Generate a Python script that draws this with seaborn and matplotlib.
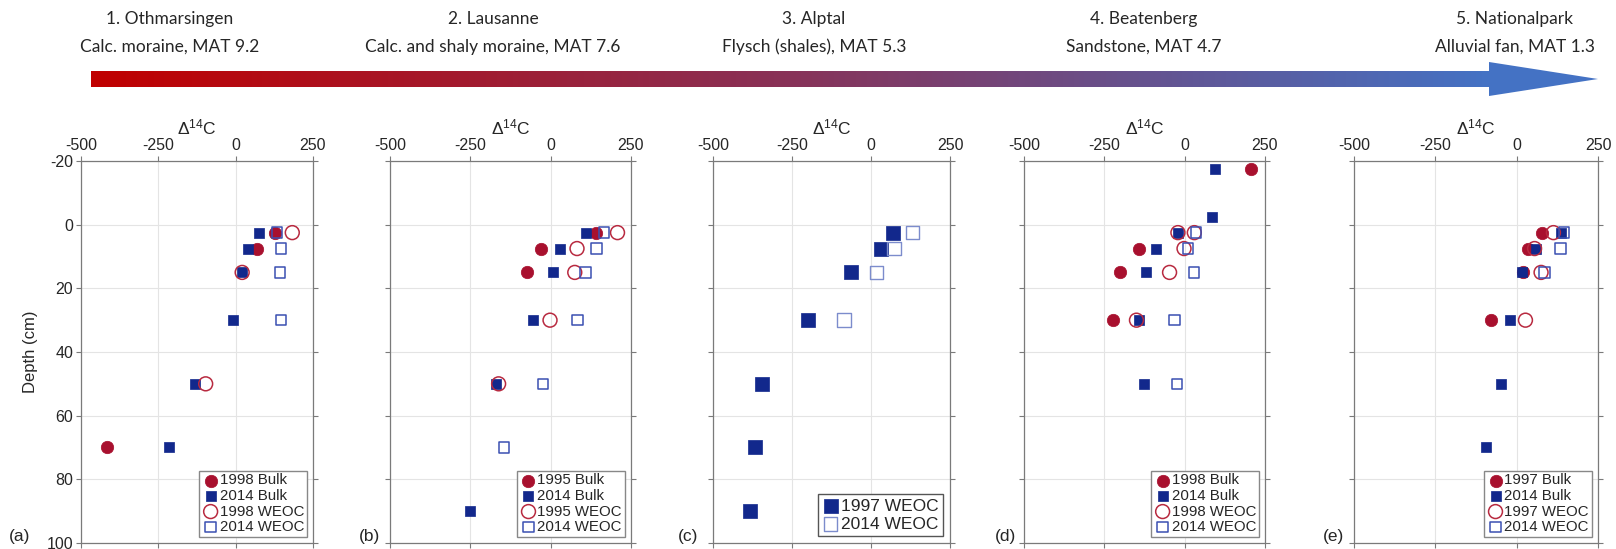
import numpy as np
import matplotlib
matplotlib.use("Agg")
import matplotlib.pyplot as plt
import seaborn as sns
from matplotlib.colors import LinearSegmentedColormap
from matplotlib.patches import Polygon

# header text
sites = ["1. Othmarsingen", "2. Lausanne", "3. Alptal", "4. Beatenberg", "5. Nationalpark"]
geology = ["Calc. moraine, MAT 9.2", "Calc. and shaly moraine, MAT 7.6",
           "Flysch (shales), MAT 5.3", "Sandstone, MAT 4.7", "Alluvial fan, MAT 1.3"]
panel_tags = ["(a)", "(b)", "(c)", "(d)", "(e)"]

# (a) Othmarsingen
a_bulk98_d = [2.5, 7.5, 70]
a_bulk98_v = [127, 70, -416]
a_bulk14_d = [2.5, 7.5, 15, 30, 50, 70]
a_bulk14_v = [74, 41, 21, -9, -132, -215]
a_weoc98_d = [2.5, 15, 50]
a_weoc98_v = [183, 21, -97]
a_weoc14_d = [2.5, 7.5, 15, 30]
a_weoc14_v = [134, 146, 144, 147]

# (b) Lausanne
b_bulk95_d = [2.5, 7.5, 15]
b_bulk95_v = [142, -30, -74]
b_bulk14_d = [2.5, 7.5, 15, 30, 50, 90]
b_bulk14_v = [109, 28, 6, -54, -170, -250]
b_weoc95_d = [2.5, 7.5, 15, 30, 50]
b_weoc95_v = [208, 82, 75, -2, -162]
b_weoc14_d = [2.5, 7.5, 15, 30, 50, 70]
b_weoc14_v = [166, 143, 109, 83, -24, -145]

# (c) Alptal
c_weoc97_d = [2.5, 7.5, 15, 30, 50, 70, 90]
c_weoc97_v = [69, 33, -62, -198, -345, -366, -384]
c_weoc14_d = [2.5, 7.5, 15, 30]
c_weoc14_v = [131, 73, 17, -85]

# (d) Beatenberg
d_bulk98_d = [-17.5, 7.5, 15, 30]
d_bulk98_v = [205, -141, -202, -224]
d_bulk14_d = [-17.5, -2.5, 2.5, 7.5, 15, 30, 50]
d_bulk14_v = [94, 85, -21, -90, -120, -141, -128]
d_weoc98_d = [2.5, 2.5, 7.5, 15, 30]
d_weoc98_v = [-21, 30, -2, -47, -150]
d_weoc14_d = [2.5, 7.5, 15, 30, 50]
d_weoc14_v = [35, 11, 29, -31, -24]

# (e) Nationalpark
e_bulk97_d = [2.5, 7.5, 15, 30]
e_bulk97_v = [78, 36, 20, -79]
e_bulk14_d = [2.5, 7.5, 15, 30, 50, 70]
e_bulk14_v = [137, 59, 16, -20, -48, -93]
e_weoc97_d = [2.5, 7.5, 15, 30]
e_weoc97_v = [113, 55, 75, 27]
e_weoc14_d = [2.5, 7.5, 15]
e_weoc14_v = [146, 134, 86]

RED = "#a8102e"
NAVY = "#12288c"
RED_OPEN = "#b82a40"
BLUE_OPEN = "#3a50b2"

styles = {
    "bulk_old": dict(marker="o", color=RED, edgecolor=RED, s=80, linewidth=0.5),
    "bulk_new": dict(marker="s", color=NAVY, edgecolor=NAVY, s=50, linewidth=0.5),
    "weoc_old": dict(marker="o", color="none", edgecolor=RED_OPEN, s=100, linewidth=1.1),
    "weoc_new": dict(marker="s", color="none", edgecolor=BLUE_OPEN, s=58, linewidth=1.1),
    "c_old": dict(marker="s", color=NAVY, edgecolor=NAVY, s=95, linewidth=0.5),
    "c_new": dict(marker="s", color="none", edgecolor="#7c8ccc", s=95, linewidth=1.0),
}

panels = [
    [("1998 Bulk", a_bulk98_d, a_bulk98_v, "bulk_old"),
     ("2014 Bulk", a_bulk14_d, a_bulk14_v, "bulk_new"),
     ("1998 WEOC", a_weoc98_d, a_weoc98_v, "weoc_old"),
     ("2014 WEOC", a_weoc14_d, a_weoc14_v, "weoc_new")],
    [("1995 Bulk", b_bulk95_d, b_bulk95_v, "bulk_old"),
     ("2014 Bulk", b_bulk14_d, b_bulk14_v, "bulk_new"),
     ("1995 WEOC", b_weoc95_d, b_weoc95_v, "weoc_old"),
     ("2014 WEOC", b_weoc14_d, b_weoc14_v, "weoc_new")],
    [("1997 WEOC", c_weoc97_d, c_weoc97_v, "c_old"),
     ("2014 WEOC", c_weoc14_d, c_weoc14_v, "c_new")],
    [("1998 Bulk", d_bulk98_d, d_bulk98_v, "bulk_old"),
     ("2014 Bulk", d_bulk14_d, d_bulk14_v, "bulk_new"),
     ("1998 WEOC", d_weoc98_d, d_weoc98_v, "weoc_old"),
     ("2014 WEOC", d_weoc14_d, d_weoc14_v, "weoc_new")],
    [("1997 Bulk", e_bulk97_d, e_bulk97_v, "bulk_old"),
     ("2014 Bulk", e_bulk14_d, e_bulk14_v, "bulk_new"),
     ("1997 WEOC", e_weoc97_d, e_weoc97_v, "weoc_old"),
     ("2014 WEOC", e_weoc14_d, e_weoc14_v, "weoc_new")],
]

sns.set_style("white")
plt.rcParams['font.family'] = ['Liberation Sans', 'DejaVu Sans']
plt.rcParams['axes.unicode_minus'] = False
plt.rcParams['mathtext.fontset'] = 'custom'
plt.rcParams['mathtext.rm'] = 'Liberation Sans'
plt.rcParams['mathtext.it'] = 'Liberation Sans:italic'

W, H = 1616, 549
fig = plt.figure(figsize=(W / 100, H / 100), dpi=100)

# header: gradient arrow + site names (pixel coordinates of the figure)
ov = fig.add_axes([0, 0, 1, 1])
ov.patch.set_visible(False)
cmap = LinearSegmentedColormap.from_list("grad", ["#c00000", "#883258", "#4472c4"])
ov.imshow(np.linspace(0, 1, 256)[None, :], cmap=cmap, extent=(91, 1490, 87, 71),
          aspect="auto", interpolation="bilinear")
ov.add_patch(Polygon([(1489, 62), (1598, 79), (1489, 96)], closed=True,
                     facecolor="#4472c4", edgecolor="none"))
ov.set_xlim(0, W)
ov.set_ylim(H, 0)
ov.axis("off")

head_x = [170, 493, 814, 1144, 1515]
for x, s1, s2 in zip(head_x, sites, geology):
    ov.text(x, 19, s1, ha="center", va="center", fontsize=12.5, family=["Lato", "DejaVu Sans"])
    ov.text(x, 47, s2, ha="center", va="center", fontsize=12.5, family=["Lato", "DejaVu Sans"])

tag_x = [20, 370, 688, 1006, 1333]
for x, t in zip(tag_x, panel_tags):
    ov.text(x, 536, t, ha="center", va="center", fontsize=12.5)

# panel boxes in pixels (left, right)
boxes = [(81, 313), (390, 631), (713, 950), (1024, 1265), (1354, 1598)]
top_px, bot_px = 161, 543

for i, (series, (l, r)) in enumerate(zip(panels, boxes)):
    ax = fig.add_axes([l / W, (H - bot_px) / H, (r - l) / W, (bot_px - top_px) / H])
    for label, depth, val, kind in series:
        sns.scatterplot(x=val, y=depth, ax=ax, label=label, zorder=3, **styles[kind])
    ax.set_xlim(-500, 250)
    ax.set_ylim(100, -20)
    ax.set_xticks([-500, -250, 0, 250])
    ax.set_yticks([-20, 0, 20, 40, 60, 80, 100])
    ax.grid(True, color="#e4e4e4", linewidth=0.8, zorder=0)
    ax.set_axisbelow(True)
    for sp in ax.spines.values():
        sp.set_color("#7a7a7a")
        sp.set_linewidth(0.9)
    ax.xaxis.set_label_position("top")
    ax.tick_params(axis="x", top=True, bottom=True, labeltop=True, labelbottom=False,
                   direction="out", length=3.5, color="#7a7a7a", labelsize=11.5, pad=2)
    ax.tick_params(axis="y", left=True, right=True, labelleft=(i == 0), labelright=False,
                   direction="out", length=3.5, color="#7a7a7a", labelsize=11.5, pad=2)
    ax.set_xlabel(r"$\Delta^{14}$C", fontsize=12.5, labelpad=3)
    if i == 0:
        ax.set_ylabel("Depth (cm)", fontsize=12, labelpad=6)
    else:
        ax.set_ylabel("")
    if i == 2:
        ax.legend(loc="lower right", fontsize=12.5, frameon=True, fancybox=False,
                  edgecolor="#555555", framealpha=1, borderpad=0.25, labelspacing=0.15,
                  handletextpad=0.1, handlelength=1.0, borderaxespad=0.4)
    else:
        ax.legend(loc="lower right", fontsize=10.8, frameon=True, fancybox=False,
                  edgecolor="#888888", framealpha=1, borderpad=0.2, labelspacing=0.1,
                  handletextpad=0.05, handlelength=1.1, borderaxespad=0.4)

fig.savefig("out.png", dpi=100)
